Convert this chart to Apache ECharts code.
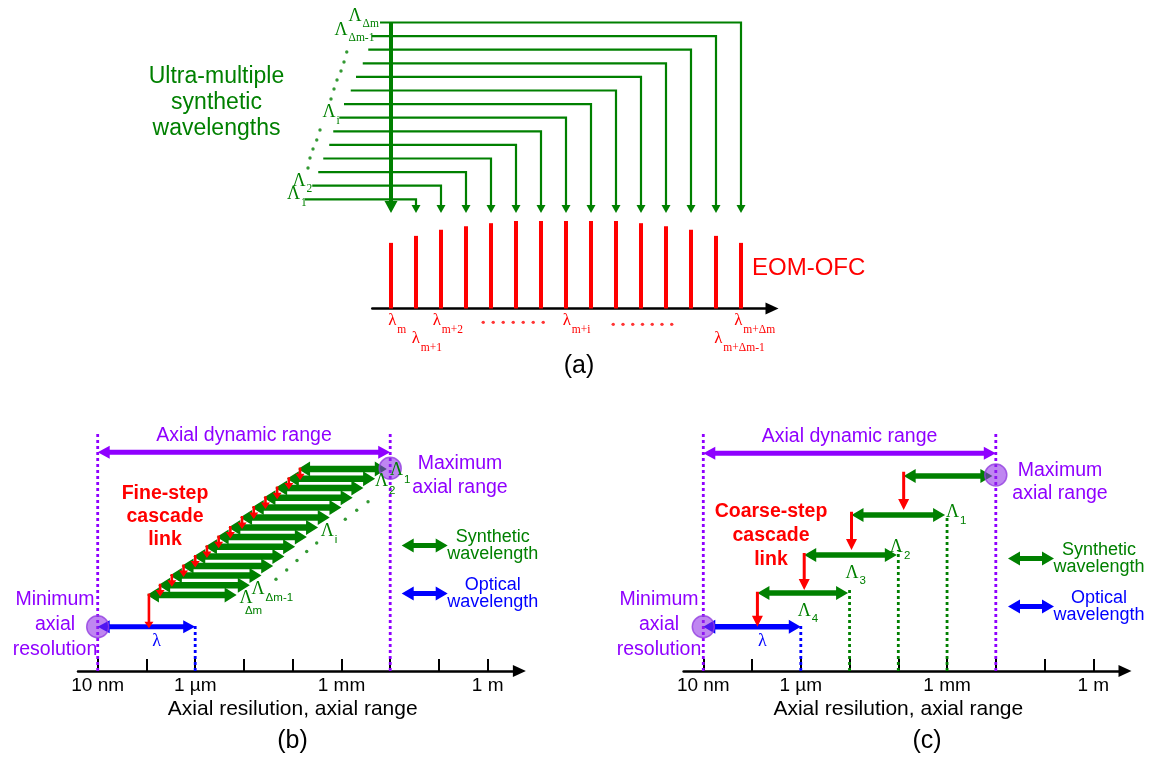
<!DOCTYPE html>
<html><head><meta charset="utf-8">
<script src="https://cdn.jsdelivr.net/npm/echarts@6/dist/echarts.min.js"></script>
<style>html,body{margin:0;padding:0;background:#fff}#c{width:1153px;height:760px}</style>
</head><body><div id="c"></div>
<script>
// ================= DATA =================
// ---- Panel (a): EOM optical frequency comb (x = comb line index) ----
const combIndex = [0,1,2,3,4,5,6,7,8,9,10,11,12,13,14];
const combAmplitude = [0.75,0.83,0.90,0.94,0.975,1,1,1,1,1,0.975,0.94,0.90,0.83,0.75];
const combLabelMain = ['λ','λ','λ','λ','λ','λ'];
const combLabelSub = ['m','m+1','m+2','m+i','m+Δm','m+Δm-1'];
const combLabelX = [0.05,0.99,1.83,7.03,13.89,13.09];
const combLabelY = [-0.137,-0.345,-0.137,-0.137,-0.137,-0.345];
const combDotsX = [3.69,4.09,4.49,4.89,5.29,5.69,6.09,8.89,9.28,9.67,10.06,10.45,10.84,11.23];
const combDotsY = [-0.158,-0.158,-0.158,-0.158,-0.158,-0.158,-0.158,-0.181,-0.181,-0.181,-0.181,-0.181,-0.181,-0.181];
// Synthetic wavelengths (level 1 = Λ1 ... level 14 = ΛΔm), beating with comb line 0
const synthLevel = [1,2,3,4,5,6,7,8,9,10,11,12,13,14];
const synthStart = [-3.44,-3.15,-2.91,-2.71,-2.47,-2.31,-2.07,-1.88,-1.61,-1.40,-1.13,-0.91,-0.77,-0.44];
const synthTarget = [1,2,3,4,5,6,7,8,9,10,11,12,13,14];
const synthRefIndex = [0];
const synthLabelMain = ['Λ','Λ','Λ','Λ','Λ'];
const synthLabelSub = ['Δm','Δm-1','i','2','1'];
const synthLabelX = [-1.44,-2.0,-2.48,-3.68,-3.9];
const synthLabelY = [14.48,13.45,7.38,2.35,1.35];
const synthDotsX = [-1.77,-1.88,-2.0,-2.16,-2.28,-2.4,-2.84,-2.97,-3.12,-3.24,-3.32];
const synthDotsY = [11.83,11.10,10.43,9.77,9.11,8.38,6.10,5.36,4.70,4.04,3.30];

// ---- Panels (b), (c): x = log10(length / m) ----
const decadeTicks = [-8,-7,-6,-5,-4,-3,-2,-1,0];
const decadeLabelValues = [-8,-6,-3,0];
const decadeLabelText = ['10 nm','1 µm','1 mm','1 m'];
const dynamicRange = [-8,-2];

// (b) fine-step cascade
const rangeLevelB = [21.87];
const fineLeft  = [-3.89,-4.12,-4.36,-4.60,-4.84,-5.08,-5.32,-5.56,-5.80,-6.04,-6.28,-6.52,-6.76,-6.99];
const fineRight = [-2.07,-2.31,-2.55,-2.77,-3.00,-3.24,-3.48,-3.71,-3.95,-4.17,-4.40,-4.64,-4.88,-5.15];
const fineLevel = [20.2,19.23,18.3,17.33,16.35,15.35,14.35,13.4,12.43,11.45,10.5,9.55,8.57,7.6];
const opticalLeftB = [-8], opticalRightB = [-6], opticalLevelB = [4.43];
const circleXB = [-2,-8], circleYB = [20.27,4.43];
const purpleGuideX = [-8,-2], purpleGuideTop = [24,24];
const blueGuideX = [-6], blueGuideTop = [4.5];
const labelMainB = ['Λ','Λ','Λ','Λ','Λ','λ'];
const labelSubB  = ['1','2','i','Δm-1','Δm',''];
const labelXB = [-1.87,-2.18,-3.29,-4.71,-4.96,-6.79];
const labelYB = [20.05,18.95,14.0,8.2,7.25,2.93];
const dotsXB = [-2.455,-2.687,-2.921,-3.508,-3.713,-3.912,-4.123,-4.343];
const dotsYB = [16.93,16.07,15.17,12.8,11.95,11.05,10.1,9.17];

// (c) coarse-step cascade
const rangeLevelC = [21.77];
const coarseLeft  = [-3.89,-4.96,-5.93,-6.89];
const coarseRight = [-2.07,-3.04,-4.03,-5.03];
const coarseLevel = [19.5,15.6,11.6,7.8];
const coarseLinkX = [-3.89,-4.96,-5.93,-6.89];
const coarseLinkFrom = [19.93,15.93,11.8,7.93];
const coarseLinkTo = [16.1,12.1,8.1,4.43];
const opticalLeftC = [-8], opticalRightC = [-6], opticalLevelC = [4.43];
const circleXC = [-2,-8], circleYC = [19.6,4.43];
const greenGuideX = [-3,-4,-5], greenGuideTop = [15.3,12.1,8.4];
const labelMainC = ['Λ','Λ','Λ','Λ','λ'];
const labelSubC  = ['1','2','3','4',''];
const labelXC = [-2.89,-4.04,-4.95,-5.93,-6.79];
const labelYC = [15.85,12.35,9.8,6.02,2.93];

// ================= STYLE / HELPERS =================
const GREEN='#008000', RED='#ff0000', BLUE='#0000ff', PURPLE='#8f00ff', BLACK='#000000';
const SANS='"Liberation Sans", Arial, sans-serif';
const SERIF='"Liberation Serif", "Times New Roman", serif';
const mctx=document.createElement('canvas').getContext('2d');
function tw(t,size,fam){mctx.font=size+'px '+fam;return mctx.measureText(t).width;}
const zip=(a,b)=>a.map((v,i)=>[v,b[i]]);

function dblArrowPts(a,b,y,thick,hw,hl){
  const t=thick/2,h=hw/2;
  return [[a,y],[a+hl,y-h],[a+hl,y-t],[b-hl,y-t],[b-hl,y-h],[b,y],[b-hl,y+h],[b-hl,y+t],[a+hl,y+t],[a+hl,y+h]];
}
function downArrowPts(X,y1,y2,lw,hw,hl){
  return [[X-lw/2,y1],[X+lw/2,y1],[X+lw/2,y2-hl],[X+hw/2,y2-hl],[X,y2],[X-hw/2,y2-hl],[X-lw/2,y2-hl]];
}
function glyphLabel(pt,main,sub,o){
  const mw=tw(main,o.mainSize,SERIF);
  const els=[{type:'text',x:pt[0],y:pt[1],style:{text:main,fontSize:o.mainSize,fontFamily:SERIF,fill:o.color,align:'center',verticalAlign:'middle'}}];
  if(sub){
    const below=o.below;
    els.push({type:'text',x:below?pt[0]-1:pt[0]+mw/2+1,y:pt[1]+(below?12:o.subDy),
      style:{text:sub,fontSize:o.subSize,fontFamily:o.subFamily,fill:o.color,align:'left',verticalAlign:'middle'}});
  }
  return {type:'group',children:els};
}
function axisIdx(i){return {xAxisIndex:i,yAxisIndex:i};}
function guideSeries(ax,xs,tops,color){
  return Object.assign({type:'custom',silent:true,clip:false,data:zip(xs,tops),
    renderItem(p,api){const a=api.coord([api.value(0),0]),b=api.coord([api.value(0),api.value(1)]);
      return {type:'line',shape:{x1:a[0],y1:a[1],x2:b[0],y2:b[1]},style:{stroke:color,lineWidth:2.8,lineDash:[3,3]}};}},axisIdx(ax));
}
function dblArrowSeries(name,ax,lefts,rights,levels,color,thick,hw,hl,text){
  return Object.assign({type:'custom',name,silent:true,clip:false,itemStyle:{color},
    data:lefts.map((l,i)=>[l,levels[i],rights[i]]),
    renderItem(p,api){const a=api.coord([api.value(0),api.value(1)]),b=api.coord([api.value(2),api.value(1)]);
      const poly={type:'polygon',shape:{points:dblArrowPts(a[0],b[0],a[1],thick,hw,hl)},style:{fill:color}};
      if(!text) return poly;
      return {type:'group',children:[poly,{type:'text',x:(a[0]+b[0])/2,y:a[1]-17,style:{text,fontSize:19.5,fontFamily:SANS,fill:color,align:'center',verticalAlign:'middle'}}]};}},axisIdx(ax));
}
function linkSeries(ax,xs,from,to,lw,hw,hl,dx,dy){
  return Object.assign({type:'custom',name:'Cascade link',silent:true,clip:false,z:4,
    data:xs.map((x,i)=>[x,from[i],to[i]]),
    renderItem(p,api){const a=api.coord([api.value(0),api.value(1)]),b=api.coord([api.value(0),api.value(2)]);
      return {type:'polygon',shape:{points:downArrowPts(a[0]+dx,a[1]-dy,b[1]+dy,lw,hw,hl)},style:{fill:RED}};}},axisIdx(ax));
}
function labelSeries(ax,xs,ys,mains,subs,opt){
  return Object.assign({type:'custom',silent:true,clip:false,z:6,data:zip(xs,ys),
    renderItem(p,api){const i=p.dataIndex;const pt=api.coord([api.value(0),api.value(1)]);
      const isL=mains[i]==='λ';
      return glyphLabel(pt,mains[i],subs[i],Object.assign({},opt,isL&&opt.lambdaColor?{color:opt.lambdaColor}:{},{below:opt.belowIdx===i}));}},axisIdx(ax));
}
function dotSeries(ax,xs,ys,color){
  return Object.assign({type:'scatter',silent:true,clip:false,symbol:'circle',symbolSize:3.4,itemStyle:{color},z:5,data:zip(xs,ys)},axisIdx(ax));
}
function circleSeries(ax,xs,ys){
  return Object.assign({type:'scatter',name:'Axial limits',silent:true,clip:false,symbol:'circle',symbolSize:22,z:5,
    itemStyle:{color:'rgba(140,40,230,0.7)',borderColor:'#9440e0',borderWidth:1.5},data:zip(xs,ys)},axisIdx(ax));
}
function decadeAxis(grid){
  return {type:'value',gridIndex:grid,min:-8.404,max:0.65,
    axisLine:{show:true,symbol:['none','triangle'],symbolSize:[12,13],lineStyle:{color:BLACK,width:2.5}},
    axisTick:{show:true,customValues:decadeTicks,inside:true,length:12,lineStyle:{color:BLACK,width:2}},
    axisLabel:{show:true,customValues:decadeLabelValues,formatter:v=>decadeLabelText[decadeLabelValues.indexOf(v)]||'',fontSize:19,color:BLACK,margin:5,fontFamily:SANS},
    splitLine:{show:false},
    name:'Axial resilution, axial range',nameLocation:'middle',nameGap:28,
    nameTextStyle:{fontSize:21,color:BLACK,fontFamily:SANS,padding:[0,12,0,0]}};
}
const arrowIcon='path://M0,7L12,0L12,4.5L34,4.5L34,0L46,7L34,14L34,9.5L12,9.5L12,14Z';
function legendAt(left,top){
  return {left,top,orient:'vertical',padding:0,itemWidth:46,itemHeight:14,itemGap:13,selectedMode:false,
    data:[{name:'Synthetic wavelength',icon:arrowIcon},{name:'Optical wavelength',icon:arrowIcon}],
    formatter:n=>n==='Synthetic wavelength'?'{g|Synthetic}\n{g|wavelength}':'{b|Optical}\n{b|wavelength}',
    textStyle:{rich:{g:{fontSize:18,lineHeight:17,width:80,align:'center',color:GREEN,fontFamily:SANS},
                     b:{fontSize:18,lineHeight:17,width:80,align:'center',color:BLUE,fontFamily:SANS}}}};
}
function titleText(text,left,top,size,lh,color,weight,align){
  return {text,left,top,padding:0,textAlign:align||'center',
    textStyle:{fontSize:size,lineHeight:lh,color,fontWeight:weight||'normal',fontFamily:SANS}};
}

// ================= OPTION =================
const option={
  animation:false,
  backgroundColor:'#ffffff',
  textStyle:{fontFamily:SANS},
  title:[
    titleText('Ultra-multiple\nsynthetic\nwavelengths',216.5,63.7,23,26,GREEN),
    titleText('EOM-OFC',752,256,24,24,RED,'normal','left'),
    titleText('(a)',579,354,25,25,BLACK),
    titleText('(b)',292.5,728.5,25,25,BLACK),
    titleText('(c)',927,728.5,25,25,BLACK),
    titleText('Fine-step\ncascade\nlink',165,481.6,19.5,23.3,RED,'bold'),
    titleText('Coarse-step\ncascade\nlink',771,499.7,19.5,24,RED,'bold'),
    titleText('Maximum\naxial range',460,452,19.5,23.5,PURPLE),
    titleText('Maximum\naxial range',1060,458.5,19.5,23.5,PURPLE),
    titleText('Minimum\naxial\nresolution',55,587.5,19.5,25,PURPLE),
    titleText('Minimum\naxial\nresolution',659,587.5,19.5,25,PURPLE)
  ],
  legend:[legendAt(401.7,528),legendAt(1008,541)],
  grid:[
    {left:266,top:8.9,width:512.5,height:204,outerBoundsMode:'none'},
    {left:372.25,top:221,width:399.75,height:87.5,outerBoundsMode:'none'},
    {left:78,top:421,width:441.4,height:250,outerBoundsMode:'none'},
    {left:683.6,top:421,width:441.4,height:250,outerBoundsMode:'none'}
  ],
  xAxis:[
    {type:'value',gridIndex:0,min:-5,max:15.5,show:false},
    {type:'value',gridIndex:1,min:-0.75,max:15.24,
      axisLine:{show:true,symbol:['none','triangle'],symbolSize:[12,13],lineStyle:{color:BLACK,width:2.5}},
      axisTick:{show:false},axisLabel:{show:false},splitLine:{show:false}},
    decadeAxis(2),decadeAxis(3)
  ],
  yAxis:[
    {type:'value',gridIndex:0,min:0,max:15,show:false},
    {type:'value',gridIndex:1,min:0,max:1,show:false},
    {type:'value',gridIndex:2,min:0,max:25,show:false},
    {type:'value',gridIndex:3,min:0,max:25,show:false}
  ],
  series:[
    // ---- (a) synthetic wavelength staircase ----
    Object.assign({type:'custom',name:'Ultra-multiple synthetic wavelengths',silent:true,clip:false,
      data:synthLevel.map((lv,i)=>[synthStart[i],lv,synthTarget[i]]),
      renderItem(p,api){const lv=api.value(1);
        const p0=api.coord([api.value(0),lv]),p1=api.coord([api.value(2),lv]),p2=api.coord([api.value(2),0]);
        return {type:'group',children:[
          {type:'polyline',shape:{points:[p0,p1,[p1[0],p2[1]-6]]},style:{stroke:GREEN,lineWidth:2.2,fill:null,lineJoin:'miter'}},
          {type:'polygon',shape:{points:[[p2[0]-4.5,p2[1]-8],[p2[0]+4.5,p2[1]-8],[p2[0],p2[1]]]},style:{fill:GREEN}}]};}},axisIdx(0)),
    Object.assign({type:'custom',name:'Reference comb line',silent:true,clip:false,
      data:synthRefIndex.map(x=>[x,Math.max(...synthLevel),0]),
      renderItem(p,api){const a=api.coord([api.value(0),api.value(1)]),b=api.coord([api.value(0),api.value(2)]);
        return {type:'polygon',shape:{points:downArrowPts(a[0],a[1],b[1],4,13,12)},style:{fill:GREEN}};}},axisIdx(0)),
    labelSeries(0,synthLabelX,synthLabelY,synthLabelMain,synthLabelSub,{mainSize:18,subSize:11.5,subFamily:SERIF,color:GREEN,subDy:8.5}),
    dotSeries(0,synthDotsX,synthDotsY,GREEN),
    // ---- (a) comb ----
    Object.assign({type:'bar',name:'EOM-OFC',barWidth:4,silent:true,itemStyle:{color:RED},data:zip(combIndex,combAmplitude)},axisIdx(1)),
    labelSeries(1,combLabelX,combLabelY,combLabelMain,combLabelSub,{mainSize:17,subSize:11.5,subFamily:SERIF,color:RED,subDy:9}),
    dotSeries(1,combDotsX,combDotsY,RED),
    // ---- (b) ----
    guideSeries(2,purpleGuideX,purpleGuideTop,PURPLE),
    guideSeries(2,blueGuideX,blueGuideTop,BLUE),
    dblArrowSeries('Axial dynamic range',2,[dynamicRange[0]],[dynamicRange[1]],rangeLevelB,PURPLE,5,13,12,'Axial dynamic range'),
    dblArrowSeries('Synthetic wavelength',2,fineLeft,fineRight,fineLevel,GREEN,6.5,15,12),
    dblArrowSeries('Optical wavelength',2,opticalLeftB,opticalRightB,opticalLevelB,BLUE,5,13,12),
    linkSeries(2,fineLeft,fineLevel,fineLevel.slice(1).concat(opticalLevelB),2.6,9,6.5,2,1.5),
    circleSeries(2,circleXB,circleYB),
    labelSeries(2,labelXB,labelYB,labelMainB,labelSubB,{mainSize:18,subSize:11.5,subFamily:SANS,color:GREEN,lambdaColor:BLUE,subDy:9,belowIdx:4}),
    dotSeries(2,dotsXB,dotsYB,GREEN),
    // ---- (c) ----
    guideSeries(3,purpleGuideX,purpleGuideTop,PURPLE),
    guideSeries(3,blueGuideX,blueGuideTop,BLUE),
    guideSeries(3,greenGuideX,greenGuideTop,GREEN),
    dblArrowSeries('Axial dynamic range',3,[dynamicRange[0]],[dynamicRange[1]],rangeLevelC,PURPLE,5,13,12,'Axial dynamic range'),
    dblArrowSeries('Synthetic wavelength',3,coarseLeft,coarseRight,coarseLevel,GREEN,5.5,14,12),
    dblArrowSeries('Optical wavelength',3,opticalLeftC,opticalRightC,opticalLevelC,BLUE,5.5,14,12),
    linkSeries(3,coarseLinkX,coarseLinkFrom,coarseLinkTo,3,11,11,0,0),
    circleSeries(3,circleXC,circleYC),
    labelSeries(3,labelXC,labelYC,labelMainC,labelSubC,{mainSize:18,subSize:11.5,subFamily:SANS,color:GREEN,lambdaColor:BLUE,subDy:8})
  ]
};
const chart=echarts.init(document.getElementById('c'));
chart.setOption(option);
</script></body></html>
